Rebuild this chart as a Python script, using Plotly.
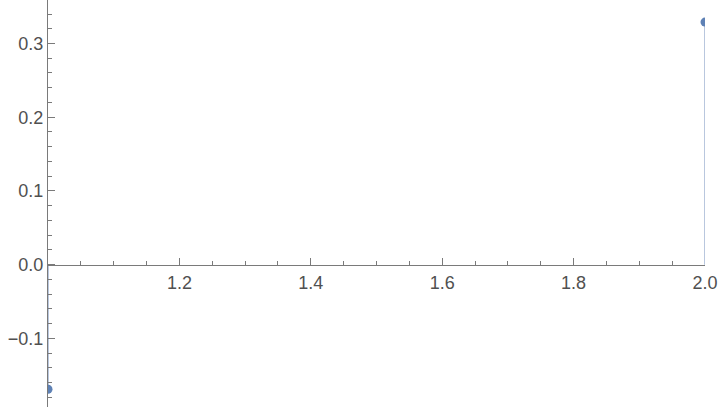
import plotly.graph_objects as go

# data
x_vals = [1, 2]
y_vals = [-0.169, 0.329]

x_ticks = [1.2, 1.4, 1.6, 1.8, 2.0]
x_tick_labels = ["1.2", "1.4", "1.6", "1.8", "2.0"]
y_ticks = [-0.1, 0.0, 0.1, 0.2, 0.3]
y_tick_labels = ["\u22120.1", "0.0", "0.1", "0.2", "0.3"]

x_range = [1, 2]
y_range = [-0.193, 0.359]

BLUE = "#5e81b5"
STEM = "#b9c7de"
AXIS = "#7a7a7a"
LABEL = "#505050"

# stems down to the axis (filling -> axis)
stem_x, stem_y = [], []
for xv, yv in zip(x_vals, y_vals):
    stem_x += [xv, xv, None]
    stem_y += [0, yv, None]

fig = go.Figure()
fig.add_trace(go.Scatter(x=stem_x, y=stem_y, mode="lines",
                         line=dict(color=STEM, width=2), hoverinfo="skip"))
fig.add_trace(go.Scatter(x=x_vals, y=y_vals, mode="markers",
                         marker=dict(color=BLUE, size=9)))

fig.update_layout(
    width=720, height=410,
    margin=dict(l=48, r=15, t=0, b=3),
    paper_bgcolor="white", plot_bgcolor="white",
    showlegend=False,
    font=dict(family="Liberation Sans", size=18, color=LABEL),
    xaxis=dict(
        range=x_range, showgrid=False, zeroline=False,
        anchor="free", position=-y_range[0] / (y_range[1] - y_range[0]),
        showline=True, linecolor=AXIS, linewidth=1,
        tickvals=x_ticks, ticktext=x_tick_labels,
        ticks="inside", ticklen=7, tickcolor=AXIS, tickwidth=1,
        minor=dict(dtick=0.05, tick0=1, ticks="inside", ticklen=4,
                   tickcolor=AXIS, showgrid=False),
        ticklabelstandoff=2,
    ),
    yaxis=dict(
        range=y_range, showgrid=False, zeroline=False,
        showline=True, linecolor=AXIS, linewidth=1,
        tickvals=y_ticks, ticktext=y_tick_labels,
        ticks="inside", ticklen=7, tickcolor=AXIS, tickwidth=1,
        minor=dict(dtick=0.02, tick0=0, ticks="inside", ticklen=4,
                   tickcolor=AXIS, showgrid=False),
    ),
)

fig.write_html("out.html", config={"displayModeBar": False},
               post_script="document.body.style.margin='0';")
